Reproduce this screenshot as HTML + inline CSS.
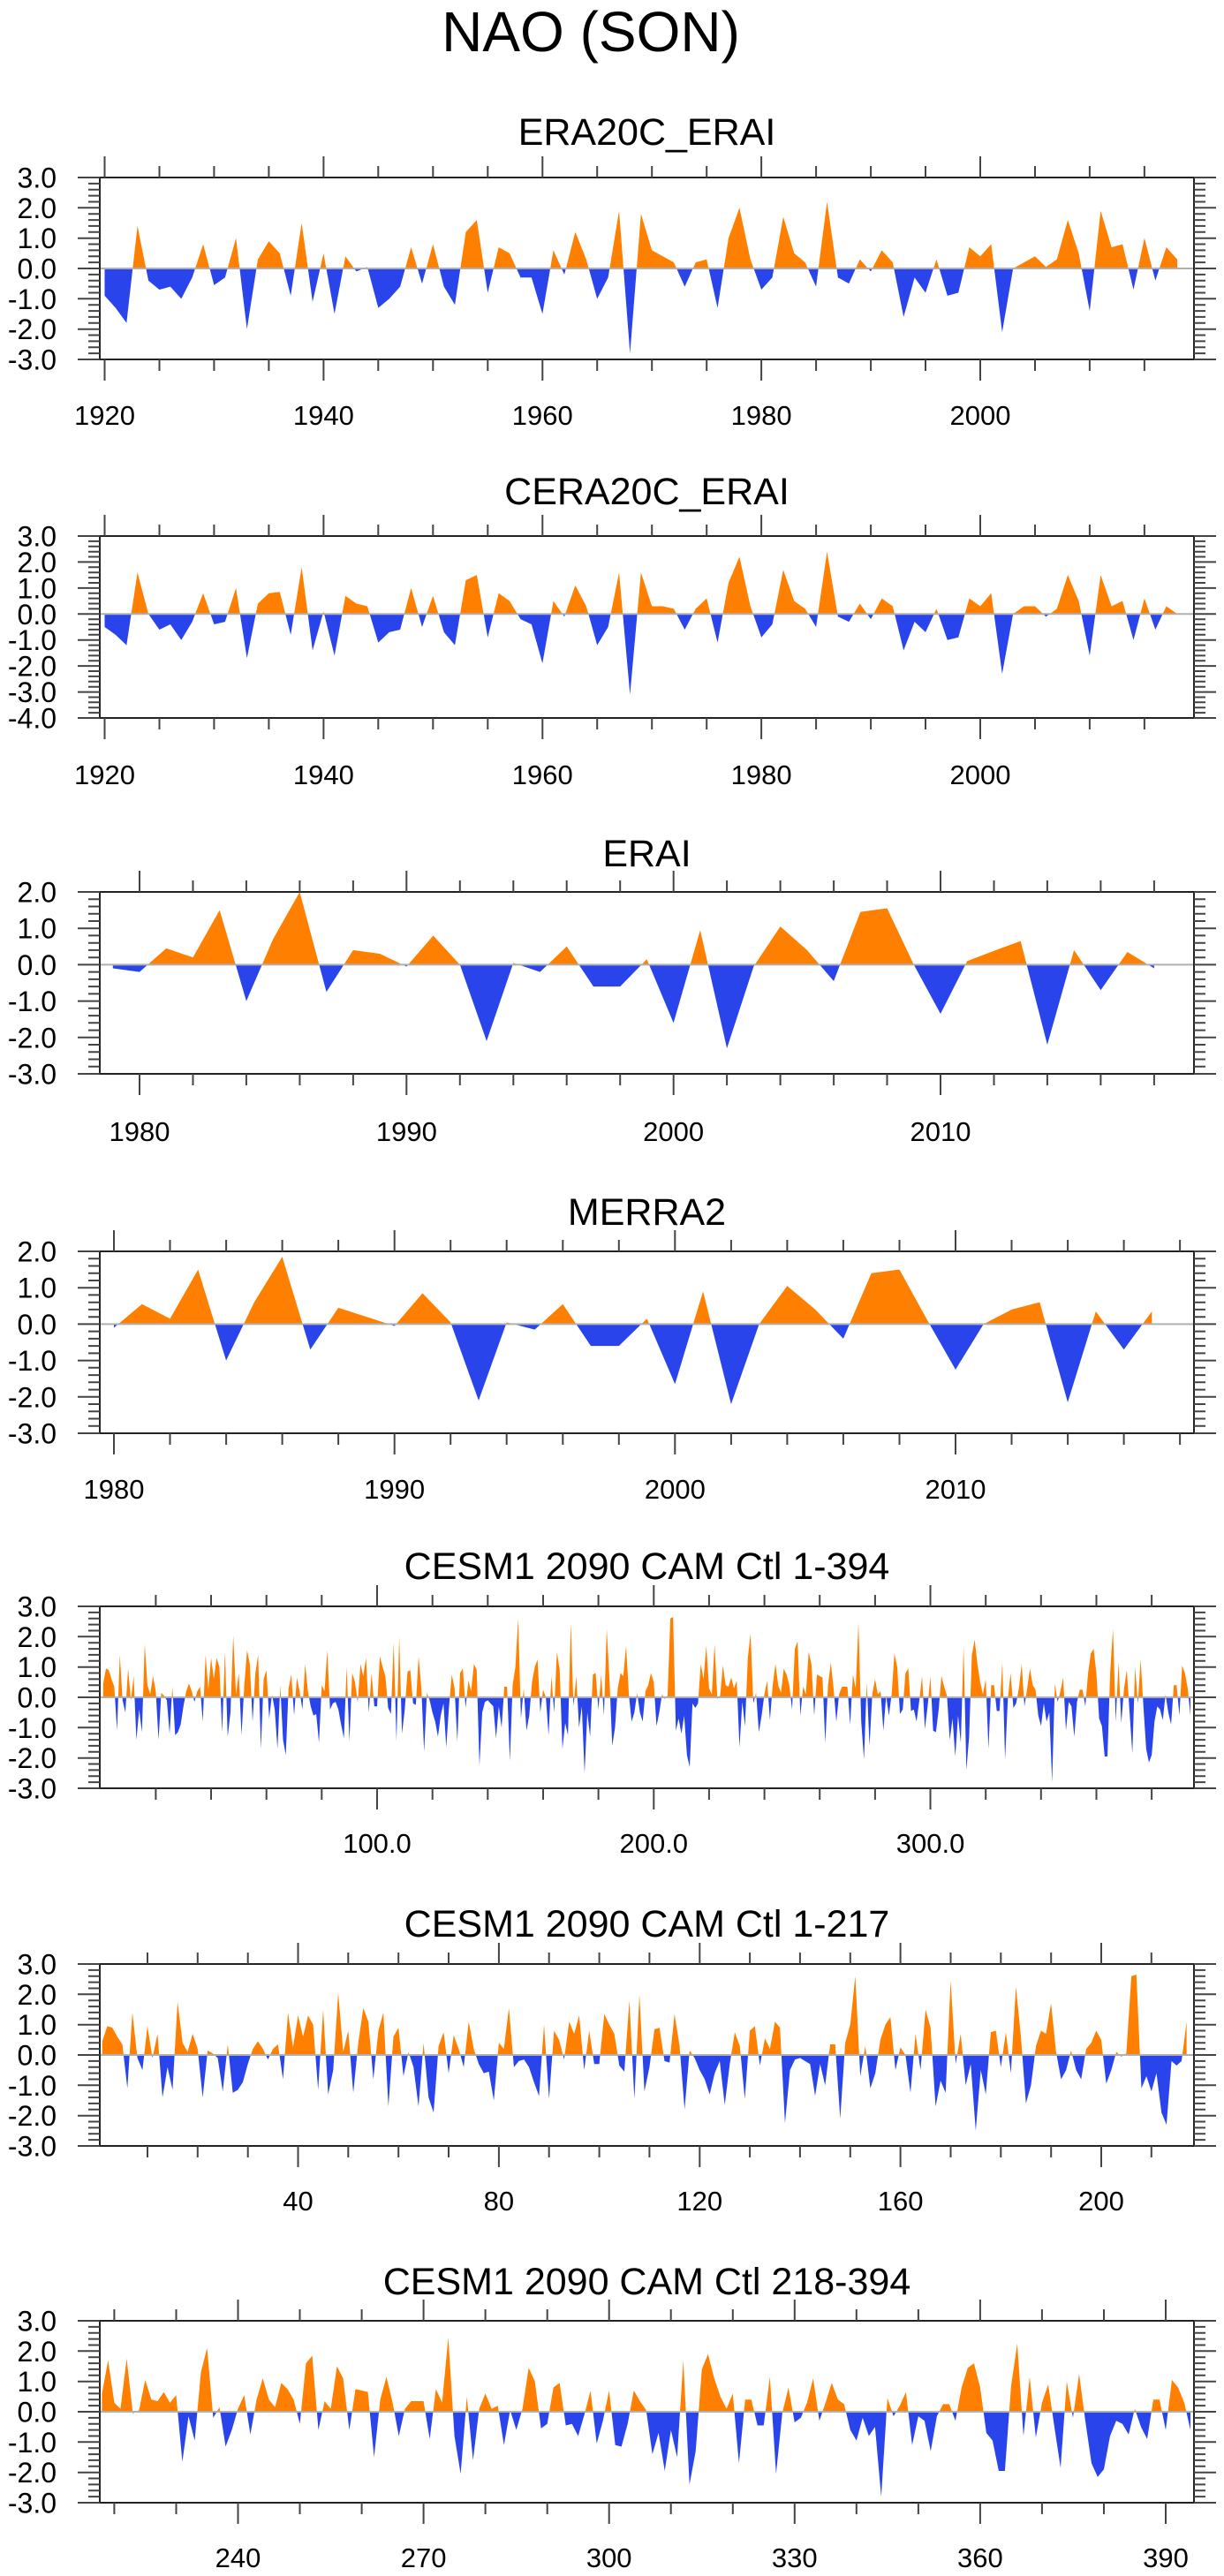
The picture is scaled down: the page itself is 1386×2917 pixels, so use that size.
<!DOCTYPE html>
<html><head><meta charset="utf-8">
<style>
html,body{margin:0;padding:0;background:#fff;}
svg{display:block;font-family:"Liberation Sans",Arial,sans-serif;}
</style></head>
<body>
<svg id="fig" width="1386" height="2917" viewBox="0 0 1386 2917" xmlns="http://www.w3.org/2000/svg">
<text x="669" y="58" font-size="64" text-anchor="middle" fill="#000">NAO (SON)</text>
</svg>
<script>
// ---- data ----
const era20cYears0 = 1920;
const era20cValues = [-0.9,-1.3,-1.8,1.4,-0.4,-0.7,-0.6,-1.0,-0.3,0.8,-0.55,-0.3,1.0,-2.0,0.3,0.9,0.5,-0.9,1.5,-1.1,
0.5,-1.5,0.4,-0.1,0.05,-1.3,-1.0,-0.6,0.7,-0.5,0.8,-0.6,-1.2,1.2,1.6,-0.8,0.7,0.5,-0.3,-0.3,
-1.5,0.6,-0.2,1.2,0.3,-1.0,-0.3,1.9,-2.8,1.8,0.6,0.4,0.2,-0.6,0.2,0.3,-1.3,1.0,2.0,0.3,
-0.7,-0.3,1.7,0.5,0.2,-0.6,2.2,-0.3,-0.5,0.3,-0.1,0.6,0.2,-1.6,-0.3,-0.8,0.3,-0.9,-0.8,0.7,
0.4,0.8,-2.1,0.0,0.2,0.4,0.05,0.3,1.6,0.5,-1.4,1.9,0.7,0.8,-0.7,1.0,-0.4,0.7,0.3];
const cera20cValues = [-0.5,-0.8,-1.2,1.6,0.0,-0.6,-0.4,-1.0,-0.3,0.8,-0.4,-0.3,1.0,-1.7,0.4,0.8,0.85,-0.8,1.8,-1.4,
0.1,-1.6,0.7,0.4,0.3,-1.1,-0.7,-0.6,1.0,-0.5,0.7,-0.7,-1.2,1.3,1.5,-0.9,0.8,0.5,-0.2,-0.4,
-1.9,0.5,-0.1,1.1,0.3,-1.2,-0.5,1.6,-3.1,1.6,0.3,0.3,0.2,-0.6,0.2,0.6,-1.1,1.2,2.2,0.3,
-0.9,-0.4,1.7,0.5,0.2,-0.5,2.4,-0.1,-0.3,0.4,-0.2,0.6,0.3,-1.4,-0.3,-0.7,0.2,-1.0,-0.9,0.6,
0.3,0.8,-2.3,0.0,0.3,0.3,-0.1,0.2,1.5,0.5,-1.6,1.5,0.3,0.5,-1.0,0.6,-0.6,0.3,0.0];
const eraiYears0 = 1979;
const eraiValues = [-0.1,-0.2,0.45,0.2,1.5,-1.0,0.7,2.0,-0.75,0.4,0.3,-0.05,0.8,0.0,-2.1,0.05,-0.2,0.5,-0.6,-0.6,
0.15,-1.6,0.95,-2.3,-0.05,1.05,0.4,-0.45,1.45,1.55,0.0,-1.35,0.1,0.38,0.65,-2.2,0.4,-0.7,0.35,-0.1];
const merraYears0 = 1980;
const merraValues = [-0.1,0.55,0.15,1.5,-1.0,0.6,1.85,-0.7,0.45,0.2,-0.05,0.85,0.05,-2.1,0.05,-0.15,0.55,-0.6,-0.6,0.15,
-1.65,0.9,-2.2,0.0,1.05,0.4,-0.4,1.4,1.5,0.1,-1.25,0.0,0.4,0.6,-2.15,0.35,-0.7,0.35];
const cesmA = [0.45,0.95,0.9,0.6,0.35,-1.1,1.4,-0.1,-0.5,0.95,-0.1,0.7,-1.4,-0.4,-1.15,1.75,0.4,0.1,0.7,0.2,
-1.4,0.15,0.05,-0.1,-1.2,0.35,-1.25,-1.15,-0.9,-0.3,0.2,0.45,0.2,-0.15,0.2,0.35,-0.8,1.4,0.25,1.3,
0.6,1.3,1.0,-1.15,1.5,-1.3,-0.5,2.05,0.1,0.8,-1.25,0.4,1.55,1.1,-0.8,0.8,1.4,-1.7,0.6,0.9,
-0.7,0.1,-0.4,-1.7,0.4,-1.4,-1.9,0.3,0.75,-0.6,0.65,0.2,-0.4,1.1,0.2,-0.3,-0.6,-0.55,-1.5,0.4,
0.2,1.55,-0.4,-0.2,-0.15,-0.4,-0.9,-1.35,1.0,-1.45,0.8,0.5,-0.15,1.1,0.7,1.3,-0.5,0.8,-0.3,-0.3,
1.35,1.0,0.7,-0.35,-0.55,1.8,-1.45,2.0,-1.2,-0.4,0.85,0.9,-0.2,-0.25,1.35,0.3,-1.8,0.15,-0.1,-0.5,
-0.8,-1.3,-0.6,-0.2,-1.65,-0.3,0.75,0.3,-1.45,0.8,0.95,-0.35,0.55,0.2,1.1,0.9,-2.25,-0.5,-0.15,-0.1,
-0.2,-0.3,-1.35,-0.3,-1.0,0.35,0.35,-2.1,0.4,1.0,2.6,-0.7,0.3,-1.1,-0.6,0.5,1.0,1.25,-0.5,0.25,
0.0,-1.25,0.7,-0.5,1.5,0.9,-1.7,-0.85,-1.25,2.45,-0.3,0.7,-1.0,-0.3,-2.5,-0.5,-1.3,0.75,0.8,-0.4,
0.75,-0.6,2.25,0.6,-1.6,-1.0,0.3,0.8,0.7,1.7,0.1,-0.8,-0.5,0.15,-0.5,-0.8,0.2,0.4,0.8,0.5,
-0.95,-0.5,0.1,-0.05,0.05,2.6,2.65,-1.1,-0.7,-1.2,-0.6,-1.9,-2.3,-0.2,-0.35,-0.2,1.1];
const cesmB = [0.6,1.7,0.3,0.1,1.75,-0.05,0.05,1.05,0.4,0.35,0.65,0.3,0.55,-1.65,-0.15,-0.95,1.3,2.1,-0.2,0.15,
-1.15,-0.6,0.1,0.55,-0.75,0.4,1.1,0.4,0.15,0.95,0.75,0.4,-0.4,1.6,1.85,-0.6,0.35,0.1,1.5,1.1,
-0.6,0.75,0.7,0.65,-1.5,0.4,1.15,0.3,-0.8,0.1,0.35,0.35,0.35,-0.9,0.75,0.3,2.45,-0.8,-2.05,0.5,
-1.6,0.1,0.6,0.1,0.2,-1.1,0.05,-0.6,0.1,1.45,1.0,-0.55,-0.4,0.8,0.95,-0.45,-0.4,-0.8,-0.1,0.7,
-1.05,-0.3,0.7,-1.1,-1.15,-0.4,0.7,0.35,0.05,-1.4,-0.7,-1.95,-0.6,-1.5,1.7,-2.4,-1.3,1.4,1.9,1.1,
0.5,0.1,0.6,-1.7,0.4,0.4,-0.45,-0.45,1.15,-2.05,-0.05,0.8,-0.35,-0.2,0.3,1.1,-0.3,0.3,0.95,0.4,
0.25,-0.6,-0.95,-0.2,-0.8,-0.5,-2.8,0.45,-0.15,0.2,0.65,-1.1,-0.15,-0.3,-1.3,-0.15,0.25,0.25,-0.3,0.8,
1.45,1.6,0.8,-0.7,-0.95,-1.95,-1.95,0.85,2.25,-0.8,1.15,-0.85,0.3,0.9,-0.5,-1.85,1.0,-0.2,1.25,-0.3,
-1.7,-2.15,-1.9,-0.8,-0.3,-0.4,-0.75,0.1,-0.5,-0.9,0.4,0.4,-0.6,1.05,0.8,0.3,-0.6];
const cesmAll = cesmA.concat(cesmB);

const yTicks3 = ["3.0","2.0","1.0","0.0","-1.0","-2.0","-3.0"];
const yTicks4 = ["3.0","2.0","1.0","0.0","-1.0","-2.0","-3.0","-4.0"];
const yTicks2 = ["2.0","1.0","0.0","-1.0","-2.0","-3.0"];
const xLabelsYears20 = ["1920","1940","1960","1980","2000"];
const xLabelsYears10 = ["1980","1990","2000","2010"];
const xLabelsAll = ["100.0","200.0","300.0"];
const xLabelsA = ["40","80","120","160","200"];
const xLabelsB = ["240","270","300","330","360","390"];

// ---- drawing ----
const NS = "http://www.w3.org/2000/svg";
const svg = document.getElementById("fig");
const ORANGE = "#ff8000", BLUE = "#2944ea";
const LEFT = 113, RIGHT = 1352, H = 206;
let clipId = 0;
function mk(tag, parent){ const e = document.createElementNS(NS, tag); parent.appendChild(e); return e; }

function drawPanel(p){
  const g = mk("g", svg);
  
  
  const top = p.top, bot = p.top + H;
  const xs = v => p.x0px + (v - p.x0) * (p.x1px - p.x0px) / (p.x1 - p.x0);
  const ys = v => top + (p.ymax - v) * H / (p.ymax - p.ymin);
  const zy = ys(0);
  // title
  const t = mk("text", g);
  
  
  t.setAttribute("x", (LEFT + RIGHT) / 2); t.setAttribute("y", p.titleY);
  t.setAttribute("font-size", "43"); t.setAttribute("text-anchor", "middle");
  t.textContent = p.title;
  // area fills
  const pts = p.values.map((v, i) => [xs(p.start + i), ys(v)]);
  let d = "M" + pts[0][0].toFixed(2) + "," + zy.toFixed(2);
  pts.forEach(q => { d += " L" + q[0].toFixed(2) + "," + q[1].toFixed(2); });
  d += " L" + pts[pts.length - 1][0].toFixed(2) + "," + zy.toFixed(2) + " Z";
  const defs = mk("defs", g);
  const ca = "clipA" + (clipId), cb = "clipB" + (clipId++);
  const c1 = mk("clipPath", defs); c1.setAttribute("id", ca);
  const r1 = mk("rect", c1); r1.setAttribute("x", 0); r1.setAttribute("y", 0); r1.setAttribute("width", 1386); r1.setAttribute("height", zy);
  const c2 = mk("clipPath", defs); c2.setAttribute("id", cb);
  const r2 = mk("rect", c2); r2.setAttribute("x", 0); r2.setAttribute("y", zy); r2.setAttribute("width", 1386); r2.setAttribute("height", 3000);
  const pa = mk("path", g);
  
  
  pa.setAttribute("d", d); pa.setAttribute("fill", ORANGE); pa.setAttribute("clip-path", "url(#" + ca + ")");
  const pb = mk("path", g);
  
  
  pb.setAttribute("d", d); pb.setAttribute("fill", BLUE); pb.setAttribute("clip-path", "url(#" + cb + ")");
  // zero line
  const zl = mk("line", g);
  
  
  zl.setAttribute("x1", LEFT); zl.setAttribute("x2", RIGHT); zl.setAttribute("y1", zy); zl.setAttribute("y2", zy);
  zl.setAttribute("stroke", "#b0b0b0"); zl.setAttribute("stroke-width", "2");
  // frame
  const fr = mk("rect", g);
  
  
  fr.setAttribute("x", LEFT); fr.setAttribute("y", top); fr.setAttribute("width", RIGHT - LEFT); fr.setAttribute("height", H);
  fr.setAttribute("fill", "none"); fr.setAttribute("stroke", "#222"); fr.setAttribute("stroke-width", "2");
  // ticks
  let td = "";
  for (let k = 0; ; k++) {
    const v = p.ymax - k * 0.2; if (v < p.ymin - 1e-6) break;
    const y = ys(v); const major = (k % 5 === 0);
    const L = major ? 25 : 13;
    td += "M" + (LEFT - L) + "," + y.toFixed(1) + " H" + LEFT + " M" + RIGHT + "," + y.toFixed(1) + " H" + (RIGHT + L) + " ";
  }
  for (let v = p.tickStart; v <= p.tickEnd + 1e-6; v += p.minorStep) {
    const x = xs(v); const major = p.majors.indexOf(Math.round(v)) >= 0;
    const L = major ? 24 : 13;
    td += "M" + x.toFixed(1) + "," + (top - L) + " V" + top + " M" + x.toFixed(1) + "," + bot + " V" + (bot + L) + " ";
  }
  const tk = mk("path", g);
  
  
  tk.setAttribute("d", td); tk.setAttribute("stroke", "#444"); tk.setAttribute("stroke-width", "2"); tk.setAttribute("fill", "none");
  // y labels
  p.yLabels.forEach((s, k) => {
    const e = mk("text", g);
    
    
    e.setAttribute("x", 64); e.setAttribute("y", ys(p.ymax - k) + 11.5);
    e.setAttribute("font-size", "32"); e.setAttribute("text-anchor", "end");
    e.textContent = s;
  });
  // x labels
  p.xLabels.forEach(s => {
    const e = mk("text", g);
    
    
    e.setAttribute("x", xs(parseFloat(s))); e.setAttribute("y", p.labelY);
    e.setAttribute("font-size", "31"); e.setAttribute("text-anchor", "middle");
    e.textContent = s;
  });
}

drawPanel({name:"era20c-erai", title:"ERA20C_ERAI", top:201, titleY:164, labelY:481, values:era20cValues, start:era20cYears0,
  x0:1920, x0px:118.5, x1:2000, x1px:1110, ymax:3, ymin:-3, yLabels:yTicks3, xLabels:xLabelsYears20,
  tickStart:1920, tickEnd:2015, minorStep:5, majors:[1920,1940,1960,1980,2000]});
drawPanel({name:"cera20c-erai", title:"CERA20C_ERAI", top:607, titleY:571, labelY:888, values:cera20cValues, start:era20cYears0,
  x0:1920, x0px:118.5, x1:2000, x1px:1110, ymax:3, ymin:-4, yLabels:yTicks4, xLabels:xLabelsYears20,
  tickStart:1920, tickEnd:2015, minorStep:5, majors:[1920,1940,1960,1980,2000]});
drawPanel({name:"erai", title:"ERAI", top:1010, titleY:981, labelY:1292, values:eraiValues, start:eraiYears0,
  x0:1980, x0px:158, x1:2010, x1px:1065, ymax:2, ymin:-3, yLabels:yTicks2, xLabels:xLabelsYears10,
  tickStart:1980, tickEnd:2018, minorStep:2, majors:[1980,1990,2000,2010]});
drawPanel({name:"merra2", title:"MERRA2", top:1417, titleY:1387, labelY:1697, values:merraValues, start:merraYears0,
  x0:1980, x0px:129, x1:2010, x1px:1082, ymax:2, ymin:-3, yLabels:yTicks2, xLabels:xLabelsYears10,
  tickStart:1980, tickEnd:2018, minorStep:2, majors:[1980,1990,2000,2010]});
drawPanel({name:"cesm-1-394", title:"CESM1 2090 CAM Ctl 1-394", top:1819, titleY:1788, labelY:2098, values:cesmAll, start:1,
  x0:100, x0px:427, x1:394, x1px:1348, ymax:3, ymin:-3, yLabels:yTicks3, xLabels:xLabelsAll,
  tickStart:20, tickEnd:380, minorStep:20, majors:[100,200,300]});
drawPanel({name:"cesm-1-217", title:"CESM1 2090 CAM Ctl 1-217", top:2224, titleY:2193, labelY:2503, values:cesmA, start:1,
  x0:40, x0px:337.5, x1:200, x1px:1247, ymax:3, ymin:-3, yLabels:yTicks3, xLabels:xLabelsA,
  tickStart:10, tickEnd:210, minorStep:10, majors:[40,80,120,160,200]});
drawPanel({name:"cesm-218-394", title:"CESM1 2090 CAM Ctl 218-394", top:2628, titleY:2598, labelY:2907, values:cesmB, start:218,
  x0:240, x0px:269.5, x1:390, x1px:1320, ymax:3, ymin:-3, yLabels:yTicks3, xLabels:xLabelsB,
  tickStart:220, tickEnd:390, minorStep:10, majors:[240,270,300,330,360,390]});
</script>
</body></html>
